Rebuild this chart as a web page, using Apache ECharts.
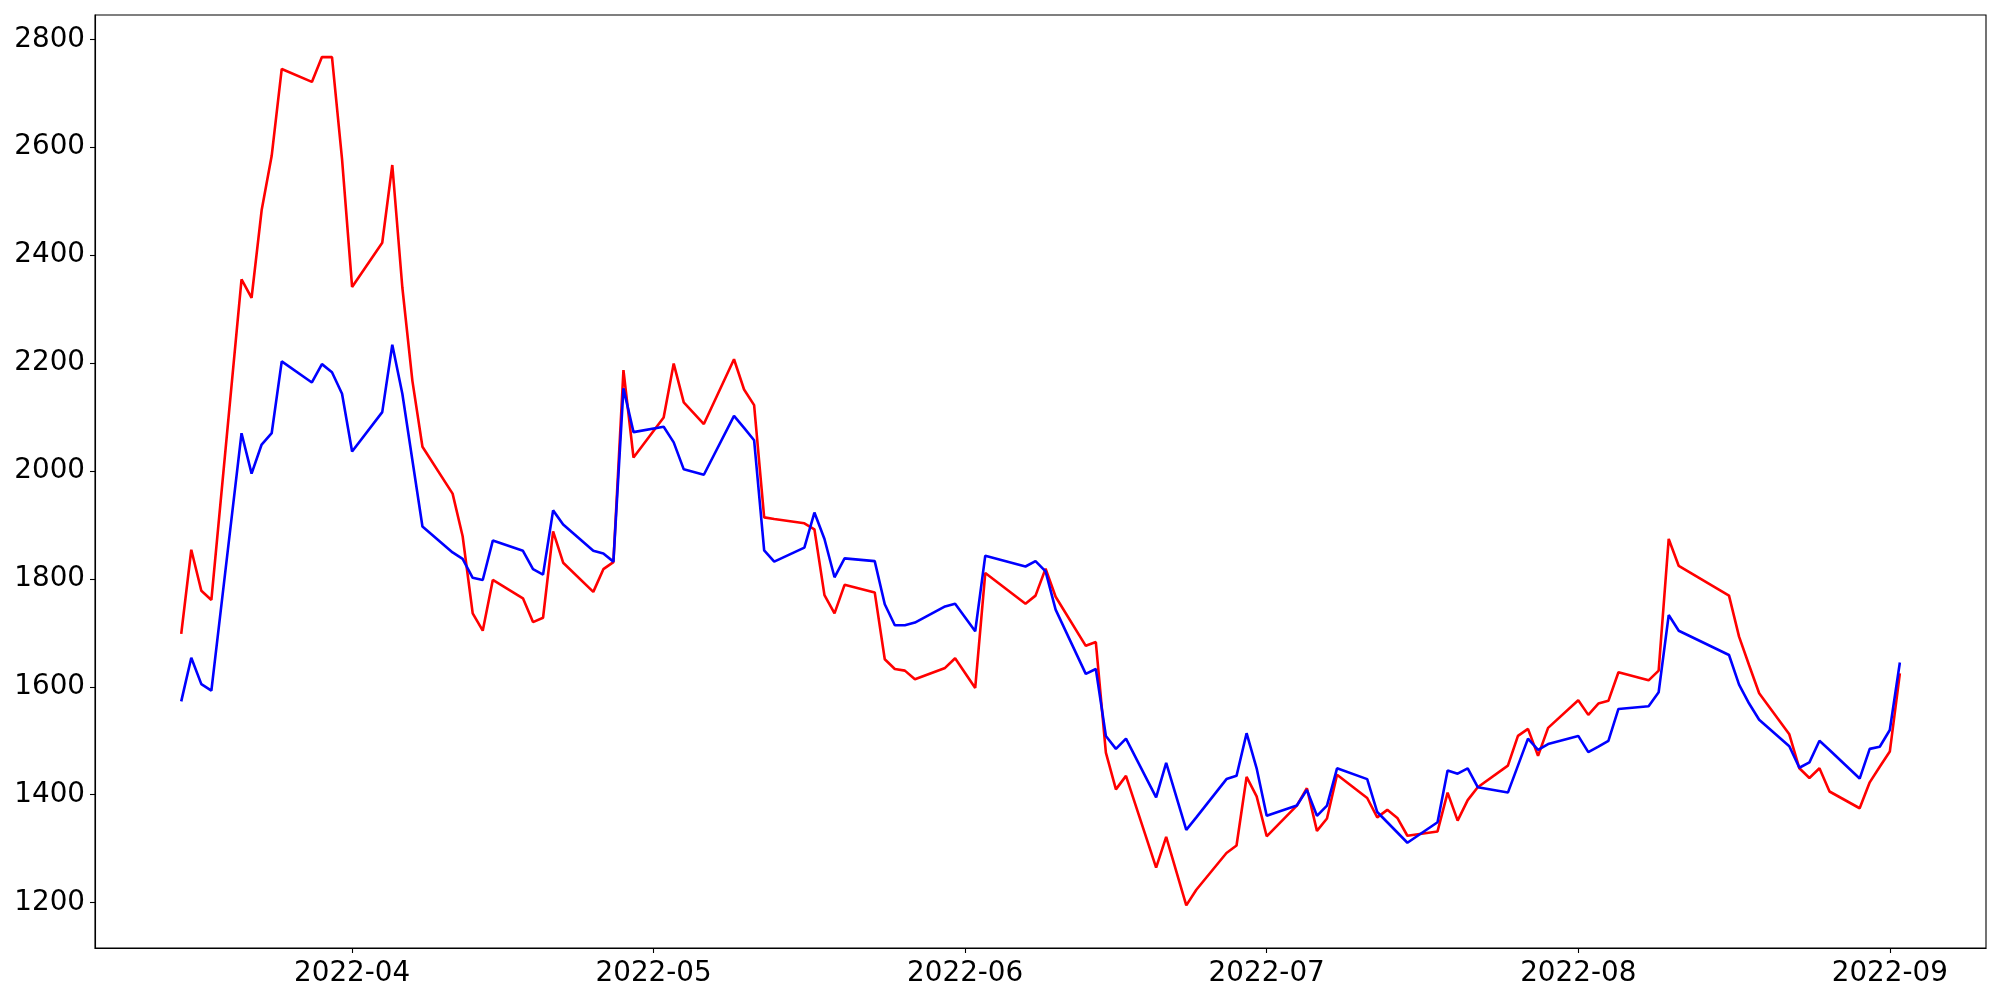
<!DOCTYPE html>
<html>
<head>
<meta charset="utf-8">
<script src="https://cdn.jsdelivr.net/npm/echarts@6/dist/echarts.min.js"></script>
<style>
  html, body { margin: 0; padding: 0; background: #fff; }
  #chart { width: 2000px; height: 1000px; }
</style>
</head>
<body>
<div id="chart"></div>
<script>
const dates = [
  '2022-03-15','2022-03-16','2022-03-17','2022-03-18','2022-03-21','2022-03-22','2022-03-23','2022-03-24','2022-03-25',
  '2022-03-28','2022-03-29','2022-03-30','2022-03-31','2022-04-01','2022-04-04','2022-04-05','2022-04-06','2022-04-07','2022-04-08',
  '2022-04-11','2022-04-12','2022-04-13','2022-04-14','2022-04-15','2022-04-18','2022-04-19','2022-04-20','2022-04-21','2022-04-22',
  '2022-04-25','2022-04-26','2022-04-27','2022-04-28','2022-04-29','2022-05-02','2022-05-03','2022-05-04','2022-05-06',
  '2022-05-09','2022-05-10','2022-05-11','2022-05-12','2022-05-13','2022-05-16','2022-05-17','2022-05-18','2022-05-19','2022-05-20',
  '2022-05-23','2022-05-24','2022-05-25','2022-05-26','2022-05-27','2022-05-30','2022-05-31','2022-06-02','2022-06-03',
  '2022-06-07','2022-06-08','2022-06-09','2022-06-10','2022-06-13','2022-06-14','2022-06-15','2022-06-16','2022-06-17',
  '2022-06-20','2022-06-21','2022-06-23','2022-06-24','2022-06-27','2022-06-28','2022-06-29','2022-06-30','2022-07-01',
  '2022-07-04','2022-07-05','2022-07-06','2022-07-07','2022-07-08','2022-07-11','2022-07-12','2022-07-13','2022-07-14','2022-07-15',
  '2022-07-18','2022-07-19','2022-07-20','2022-07-21','2022-07-22','2022-07-25','2022-07-26','2022-07-27','2022-07-28','2022-07-29',
  '2022-08-01','2022-08-02','2022-08-03','2022-08-04','2022-08-05','2022-08-08','2022-08-09','2022-08-10','2022-08-11',
  '2022-08-16','2022-08-17','2022-08-18','2022-08-19','2022-08-22','2022-08-23','2022-08-24','2022-08-25','2022-08-26',
  '2022-08-29','2022-08-30','2022-08-31','2022-09-01','2022-09-02'
];

const redValues = [
  1698,1854,1778,1761,2355,2321,2483,2584,2745,
  2721,2767,2767,2578,2341,2423,2567,2340,2167,2045,
  1958,1879,1736,1704,1798,1764,1720,1728,1888,1830,
  1776,1818,1831,2187,2025,2099,2199,2127,2087,
  2207,2151,2122,1914,1911,1903,1892,1770,1736,1789,
  1775,1651,1633,1630,1614,1635,1653,1598,1811,
  1754,1769,1819,1767,1676,1683,1478,1410,1435,
  1265,1322,1195,1224,1292,1306,1433,1397,1323,
  1380,1412,1333,1356,1437,1394,1358,1372,1357,1324,
  1332,1404,1352,1390,1414,1454,1509,1522,1472,1524,
  1575,1548,1569,1574,1627,1612,1630,1874,1824,
  1769,1693,1640,1588,1512,1449,1431,1449,1406,
  1375,1423,1452,1480,1625
];

const blueValues = [
  1573,1654,1605,1593,2070,1995,2049,2070,2203,
  2164,2198,2183,2143,2036,2109,2234,2143,2020,1897,
  1849,1837,1802,1798,1871,1852,1818,1808,1927,1901,
  1852,1847,1832,2153,2072,2082,2053,2003,1993,
  2102,2080,2057,1853,1832,1858,1923,1874,1803,1838,
  1833,1753,1714,1714,1719,1749,1754,1703,1843,
  1823,1833,1814,1743,1624,1633,1509,1485,1504,
  1395,1459,1335,1358,1429,1435,1514,1449,1361,
  1380,1409,1361,1380,1449,1429,1368,1349,1330,1311,
  1349,1445,1439,1449,1414,1404,1454,1504,1483,1494,
  1509,1479,1489,1500,1559,1564,1590,1733,1704,
  1659,1604,1569,1539,1490,1450,1460,1500,1483,
  1430,1485,1489,1520,1645
];

const xTickDates = ['2022-04-01','2022-05-01','2022-06-01','2022-07-01','2022-08-01','2022-09-01'];
const xTickLabels = ['2022-04','2022-05','2022-06','2022-07','2022-08','2022-09'];
const yTicks = [1200,1400,1600,1800,2000,2200,2400,2600,2800];

const DAY = 86400000;
function dayNum(s) {
  const p = s.split('-').map(Number);
  return (Date.UTC(p[0], p[1] - 1, p[2]) - Date.UTC(2022, 3, 1)) / DAY;
}
const xs = dates.map(dayNum);
const tickXs = xTickDates.map(dayNum);
const redData = xs.map((x, i) => [x, redValues[i]]);
const blueData = xs.map((x, i) => [x, blueValues[i]]);

const font = { fontFamily: 'DejaVu Sans', fontSize: 27.8, color: '#000' };

const chart = echarts.init(document.getElementById('chart'), null, { renderer: 'canvas' });
chart.setOption({
  animation: false,
  backgroundColor: '#fff',
  grid: {
    left: 95, right: 14, top: 15, bottom: 52,
    containLabel: false,
    outerBoundsMode: 'none',
    show: true, borderColor: '#000', borderWidth: 1.1,
    backgroundColor: 'transparent'
  },
  xAxis: {
    type: 'value',
    min: -25.58, max: 162.57,
    axisLine: { show: true, onZero: false, lineStyle: { color: '#000', width: 1.1 } },
    axisTick: { show: true, length: 5, lineStyle: { color: '#000', width: 1.1 }, customValues: tickXs },
    axisLabel: Object.assign({}, font, {
      margin: 12,
      customValues: tickXs,
      formatter: function (v) {
        const i = tickXs.findIndex(t => Math.abs(t - v) < 1e-6);
        return i >= 0 ? xTickLabels[i] : '';
      }
    }),
    splitLine: { show: false }
  },
  yAxis: {
    type: 'value',
    min: 1116, max: 2845,
    axisLine: { show: true, onZero: false, lineStyle: { color: '#000', width: 1.1 } },
    axisTick: { show: true, length: 5, lineStyle: { color: '#000', width: 1.1 }, customValues: yTicks },
    axisLabel: Object.assign({}, font, {
      margin: 10,
      customValues: yTicks,
      formatter: function (v) { return String(Math.round(v)); }
    }),
    splitLine: { show: false }
  },
  series: [
    {
      type: 'line', data: redData, showSymbol: false, symbol: 'none',
      lineStyle: { color: '#ff0000', width: 2.6 }, itemStyle: { color: '#ff0000' }, z: 2
    },
    {
      type: 'line', data: blueData, showSymbol: false, symbol: 'none',
      lineStyle: { color: '#0000ff', width: 2.6 }, itemStyle: { color: '#0000ff' }, z: 3
    }
  ]
});
</script>
</body>
</html>
